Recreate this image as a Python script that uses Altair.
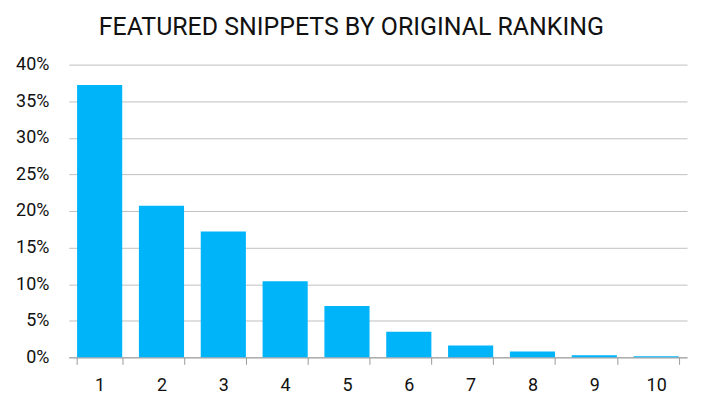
import altair as alt
import pandas as pd

ranks = ["1", "2", "3", "4", "5", "6", "7", "8", "9", "10"]
shares = [0.372, 0.207, 0.172, 0.104, 0.070, 0.035, 0.016, 0.008, 0.003, 0.0015]

df = pd.DataFrame({"rank": ranks, "share": shares})

FONT = "Roboto"

chart = alt.Chart(df).mark_bar(color="#00B4FA").encode(
    x=alt.X("rank:N", sort=ranks, title=None,
            scale=alt.Scale(paddingInner=0.27, paddingOuter=0.135),
            axis=alt.Axis(labelAngle=0, tickBand="extent", domainColor="#9a9a9a",
                          tickColor="#9a9a9a", tickSize=7, labelFontSize=18,
                          labelPadding=12, labelColor="#111", labelFont=FONT)),
    y=alt.Y("share:Q", title=None,
            scale=alt.Scale(domain=[0, 0.4], nice=False),
            axis=alt.Axis(format=".0%", values=[0, .05, .1, .15, .2, .25, .3, .35, .4],
                          domain=False, ticks=False, gridColor="#c0c0c0",
                          labelFontSize=18, labelPadding=20, labelColor="#111",
                          labelFont=FONT)),
).properties(
    width=621, height=294,
    title=alt.TitleParams("FEATURED SNIPPETS BY ORIGINAL RANKING", fontSize=25,
                          font=FONT, fontWeight="normal", color="#111",
                          anchor="middle", frame="bounds", offset=16),
    padding={"left": 7, "top": 6, "right": 10, "bottom": 5},
).configure_view(stroke=None)

chart.save("out.html", embed_options={"renderer": "svg", "actions": False})
